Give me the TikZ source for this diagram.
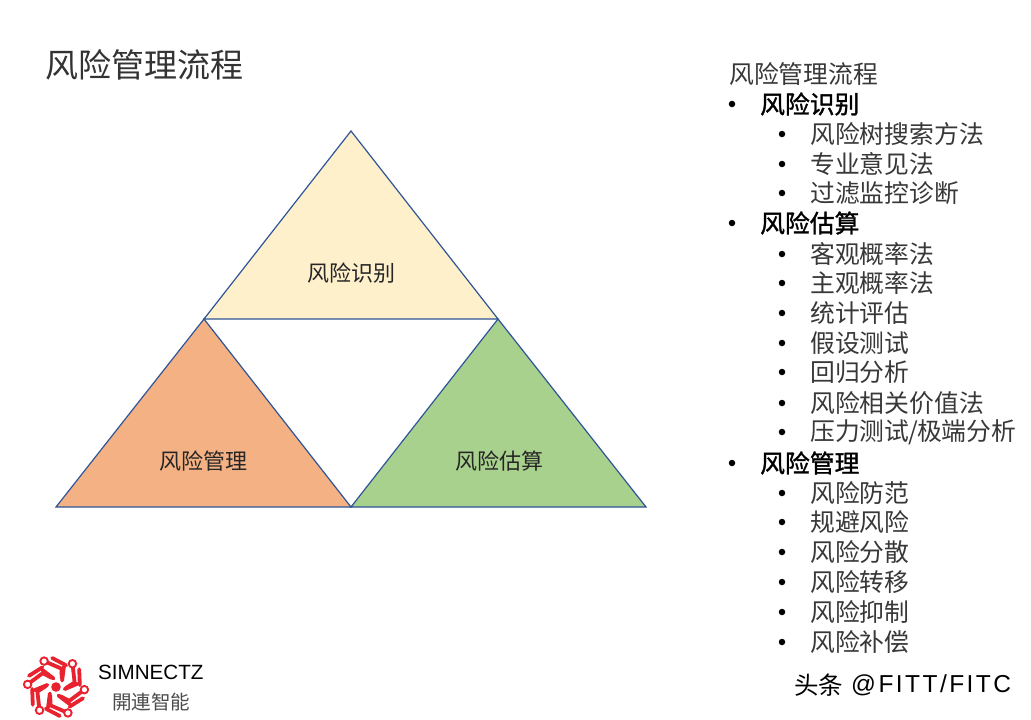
\documentclass[tikz,border=0pt]{standalone}
\usepackage{fontspec}
\setmainfont{Noto Sans CJK SC}
\newfontfamily\latinf{Liberation Sans}
\newfontfamily\latinw[LetterSpace=10]{Liberation Sans}
\newfontfamily\cjkb[FakeBold=1.2]{Noto Sans CJK SC}
\definecolor{edgeblue}{HTML}{2F5597}
\definecolor{logored}{HTML}{E8222E}
\definecolor{triyellow}{HTML}{FFF0CC}
\definecolor{triorange}{HTML}{F4B183}
\definecolor{trigreen}{HTML}{A9D18E}
\newcommand{\slashmark}{\kern-1pt/\kern-1pt}
\tikzset{
 tri/.style={draw=edgeblue,line width=1.2pt,line join=miter},
 lbl/.style={inner sep=0pt,font=\fontsize{22}{22}\selectfont,text=black!85},
 lone/.style={anchor=west,inner sep=0pt,font=\fontsize{24.8}{24.8}\selectfont,text=black!78},
 lonb/.style={anchor=west,inner sep=0pt,font=\cjkb\fontsize{24.8}{24.8}\selectfont,text=black},
 dotmark/.style={circle,fill=black,inner sep=0pt,minimum size=6.5pt},
 trace/.style={draw=logored,line width=3.8pt,line cap=round,line join=round},
 pad/.style={circle,draw=logored,line width=1.9pt,fill=white,inner sep=0pt,minimum size=7.5pt},
}
\begin{document}
\begin{tikzpicture}[x=1pt,y=-1pt]
\useasboundingbox (0,0) rectangle (1031,720);
\fill[white] (0,0) rectangle (1031,720);
\node[anchor=west,inner sep=0pt,font=\fontsize{33}{33}\selectfont,text=black!80] (title) at (45,65) {风险管理流程};
\path[tri,fill=triyellow] (351,131) -- (498,319) -- (204,319) -- cycle;
\path[tri,fill=triorange] (204,319) -- (351,507) -- (56,507) -- cycle;
\path[tri,fill=trigreen] (498,319) -- (646,507) -- (351,507) -- cycle;
\node[lbl] (a) at (351,273) {风险识别};
\node[lbl] (b) at (203,461) {风险管理};
\node[lbl] (c) at (499,461) {风险估算};
\node[lone] (h) at (729,74) {风险管理流程};
\foreach \y/\t/\k in {
104/风险识别/1,134/风险树搜索方法/2,164/专业意见法/2,193/过滤监控诊断/2,
223/风险估算/1,254/客观概率法/2,283/主观概率法/2,313/统计评估/2,343/假设测试/2,372/回归分析/2,403/风险相关价值法/2,432/压力测试\slashmark 极端分析/2,
463/风险管理/1,493/风险防范/2,522/规避风险/2,552/风险分散/2,582/风险转移/2,612/风险抑制/2,642/风险补偿/2}{
 \ifnum\k=1
  \node[dotmark] at (732,\y) {};
  \node[lonb] at (760,\y) {\t};
 \else
  \node[dotmark] at (782,\y) {};
  \node[lone] at (810,\y) {\t};
 \fi
}
% logo
\begin{scope}[shift={(56,687)}]
 \foreach \r in {0,60,...,300}{
  \begin{scope}[rotate=\r]
   \draw[trace] (-3.8,-29) -- (10.2,-21.6);
   \draw[trace] (-13.6,-17) -- (-2.5,-8.5);
   \draw[trace] (-11.9,-25.9) -- (5.4,-18.4) -- (5.8,-8.6);
   \node[pad] at (-11.9,-25.9) {};
  \end{scope}
 }
 \fill[logored] (0,0) circle (4.8);
\end{scope}
\node[anchor=west,inner sep=0pt,font=\latinf\fontsize{20.6}{20.6}\selectfont] (s) at (98,672) {SIMNECTZ};
\node[anchor=west,inner sep=0pt,font=\fontsize{19.5}{19.5}\selectfont,text=black!70] (k) at (112,702) {開連智能};
\node[anchor=west,inner sep=0pt,font=\fontsize{24.5}{24.5}\selectfont] (w) at (794,685) {头条};
\node[anchor=west,inner sep=0pt,font=\latinw\fontsize{24.5}{24.5}\selectfont] (w2) at (851,685) {@FITT/FITC};
\end{tikzpicture}
\end{document}
